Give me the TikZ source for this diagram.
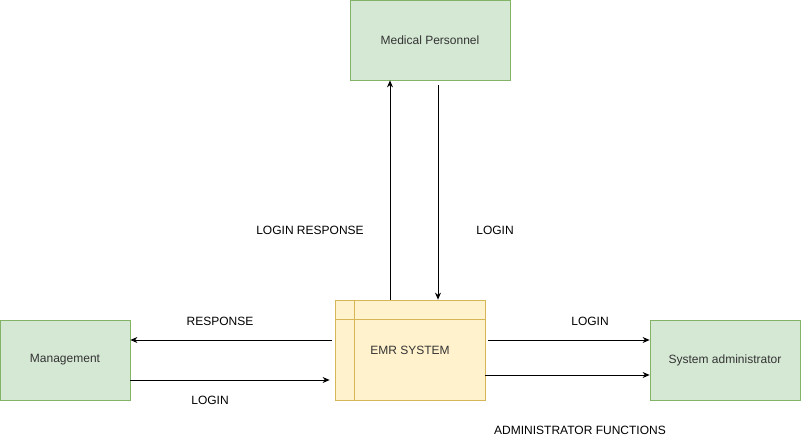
\documentclass[tikz,border=0pt]{standalone}
\usepackage{fontspec}
\setmainfont{Liberation Sans}
\usetikzlibrary{arrows.meta}
\definecolor{entfill}{HTML}{D5E8D4}
\definecolor{entline}{HTML}{82B366}
\definecolor{sysfill}{HTML}{FFF2CC}
\definecolor{sysline}{HTML}{D6B656}
\tikzset{
  entity/.style={draw=entline, fill=entfill, line width=0.8pt, minimum height=80pt, inner sep=0pt, font=\fontsize{12}{14}\selectfont, text=black!80},
  process/.style={draw=sysline, fill=sysfill, line width=0.8pt, minimum width=150pt, minimum height=100pt, inner sep=0pt, font=\fontsize{12}{14}\selectfont, text=black!80},
  flow/.style={-{Stealth[length=7pt,width=6pt]}, line width=0.8pt},
  lbl/.style={font=\fontsize{12}{14}\selectfont, inner sep=0pt}
}
\begin{document}
\begin{tikzpicture}[x=1pt, y=-1pt]
  \useasboundingbox (0,0) rectangle (801,441);
  \node[entity, minimum width=160pt] (med) at (430,40) {Medical Personnel};
  \node[entity, minimum width=130pt] (mgmt) at (65,360) {Management};
  \node[entity, minimum width=150pt] (admin) at (725,360) {System administrator};
  \node[process] (emr) at (410,350) {EMR SYSTEM};
  % internal storage lines
  \draw[sysline, line width=0.8pt] (emr.north west) ++(20,0) -- ++(0,100);
  \draw[sysline, line width=0.8pt] (emr.north west) ++(0,20) -- ++(150,0);
  \begin{scope}[flow]
    \draw (emr.north -| 390,0) to (med.south -| 390,0);
    \draw (med.south -| 438,5) ++(0,5) to (emr.north -| 438,0);
    \draw (emr.west |- 0,340) ++(-3,0) to (mgmt.east |- 0,340);
    \draw (mgmt.east |- 0,380) to ([xshift=-5pt]emr.west |- 0,380);
    \draw (emr.east |- 0,340) ++(3,0) to (admin.west |- 0,340);
    \draw (emr.east |- 0,375) to (admin.west |- 0,375);
  \end{scope}
  \node[lbl] (l1) at (310,230) {LOGIN RESPONSE};
  \node[lbl] (l2) at (495,230) {LOGIN};
  \node[lbl] (l3) at (220,321) {RESPONSE};
  \node[lbl] (l4) at (210,400) {LOGIN};
  \node[lbl] (l5) at (590,321) {LOGIN};
  \node[lbl] (l6) at (580,430) {ADMINISTRATOR FUNCTIONS};
\end{tikzpicture}
\end{document}
